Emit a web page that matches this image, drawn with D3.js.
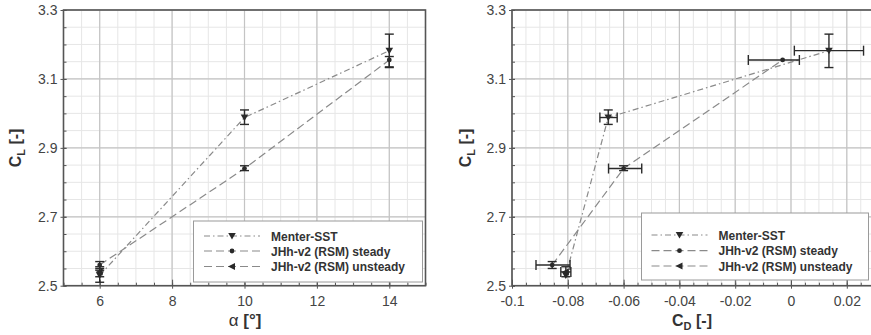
<!DOCTYPE html>
<html>
<head>
<meta charset="utf-8">
<script src="https://cdn.jsdelivr.net/npm/d3@7"></script>
<style>
  body { margin: 0; background: #fff; }
  svg { display: block; font-family: "Liberation Sans", Arial, sans-serif; }
</style>
</head>
<body>
<svg id="chart" width="871" height="335"></svg>
<script>
// angle of attack
const alpha = [6, 10, 14];

// Menter-SST
const menterCL = [2.53, 2.988, 3.182];
const menterCLlo = [2.51, 2.968, 3.133];
const menterCLhi = [2.545, 3.01, 3.23];
const menterCD = [-0.0807, -0.0655, 0.0136];
const menterCDlo = [null, -0.0685, 0.0012];
const menterCDhi = [null, -0.0623, 0.026];

// JHh-v2 (RSM) steady
const steadyCL = [2.56, 2.84, 3.155];
const steadyCLlo = [2.55, 2.834, 3.135];
const steadyCLhi = [2.57, 2.848, 3.165];
const steadyCD = [-0.0856, -0.06, -0.003];
const steadyCDlo = [-0.0914, -0.0654, -0.0153];
const steadyCDhi = [-0.0792, -0.0535, 0.003];

// JHh-v2 (RSM) unsteady (only alpha = 6)
const unsteadyAlpha = [6];
const unsteadyCL = [2.54];
const unsteadyCLlo = [2.526];
const unsteadyCLhi = [2.555];
const unsteadyCD = [-0.0807];
const unsteadyCDlo = [-0.0825];
const unsteadyCDhi = [-0.0789];

const yTicks = [2.5, 2.7, 2.9, 3.1, 3.3];
const alphaTicks = [6, 8, 10, 12, 14];
const cdTicks = [-0.1, -0.08, -0.06, -0.04, -0.02, 0, 0.02];
const legendLabels = ['Menter-SST', 'JHh-v2 (RSM) steady', 'JHh-v2 (RSM) unsteady'];

const lineColor = '#8a8a8a';
const markColor = '#2a2a2a';
const dashDot = '6,3,1.5,3';
const dashed = '8,4';

const svg = d3.select('#chart');

function symbolPath(kind) {
    if (kind === 'down') return 'M-3.8,-3 L3.8,-3 L0,3.6 Z';
    if (kind === 'left') return 'M-4,0 L3,-3.6 L3,3.6 Z';
    return d3.symbol(d3.symbolCircle, 18)();
}

function panel(opts) {
    const x = d3.scaleLinear().domain(opts.xDomain).range(opts.xRange);
    const y = d3.scaleLinear().domain([2.5, 3.3]).range([285.7, 10]);
    const g = svg.append('g');
    const [x0, x1] = opts.xRange;
    const [y1, y0] = y.range();

    // minor grid
    g.append('g').selectAll('line.mx')
        .data(opts.xMinor).join('line')
        .attr('x1', d => x(d)).attr('x2', d => x(d))
        .attr('y1', y0).attr('y2', y1)
        .attr('stroke', '#e6e6e6').attr('stroke-width', 1);
    g.append('g').selectAll('line.my')
        .data(d3.range(2.5, 3.301, 0.05)).join('line')
        .attr('x1', x0).attr('x2', x1)
        .attr('y1', d => y(d)).attr('y2', d => y(d))
        .attr('stroke', '#e6e6e6').attr('stroke-width', 1);
    // major grid
    g.append('g').selectAll('line')
        .data(opts.xTicks).join('line')
        .attr('x1', d => x(d)).attr('x2', d => x(d))
        .attr('y1', y0).attr('y2', y1)
        .attr('stroke', '#c4c4c4').attr('stroke-width', 1.2);
    g.append('g').selectAll('line')
        .data(yTicks).join('line')
        .attr('x1', x0).attr('x2', x1)
        .attr('y1', d => y(d)).attr('y2', d => y(d))
        .attr('stroke', '#c4c4c4').attr('stroke-width', 1.2);

    // axes with ticks
    const xAxis = g.append('g').attr('transform', `translate(0,${y1})`)
        .call(d3.axisBottom(x).tickValues(opts.xTicks).tickSizeInner(-6).tickSizeOuter(0)
            .tickFormat(opts.xFormat).tickPadding(10));
    const xMinorAxis = g.append('g').attr('transform', `translate(0,${y1})`)
        .call(d3.axisBottom(x).tickValues(opts.xMinor).tickSizeInner(-3).tickSizeOuter(0).tickFormat(''));
    const yAxis = g.append('g').attr('transform', `translate(${x0},0)`)
        .call(d3.axisLeft(y).tickValues(yTicks).tickSizeInner(3).tickSizeOuter(0)
            .tickFormat(d3.format('.1f')).tickPadding(3));
    const yMinorAxis = g.append('g').attr('transform', `translate(${x0},0)`)
        .call(d3.axisLeft(y).tickValues(d3.range(2.5, 3.301, 0.05)).tickSizeInner(-3).tickSizeOuter(0).tickFormat(''));
    [xAxis, xMinorAxis, yAxis, yMinorAxis].forEach(a => {
        a.select('.domain').remove();
        a.selectAll('.tick line').attr('stroke', '#555').attr('stroke-width', 1);
        a.selectAll('text').attr('font-size', 14).attr('fill', '#444')
            .attr('font-family', '"Liberation Sans", Arial, sans-serif');
    });
    yAxis.selectAll('.tick line').attr('x1', 3).attr('x2', -3);
    xAxis.selectAll('.tick line').attr('y1', 3).attr('y2', -6);

    // frame
    g.append('rect')
        .attr('x', x0).attr('y', y0)
        .attr('width', x1 - x0).attr('height', y1 - y0)
        .attr('fill', 'none').attr('stroke', '#555').attr('stroke-width', 1.6);

    // series
    opts.series.forEach(s => {
        const pts = s.xs.map((xv, i) => ({
            x: xv, y: s.ys[i],
            xlo: s.xlo ? s.xlo[i] : null, xhi: s.xhi ? s.xhi[i] : null,
            ylo: s.ylo ? s.ylo[i] : null, yhi: s.yhi ? s.yhi[i] : null
        }));
        if (pts.length > 1) {
            g.append('path')
                .attr('d', d3.line().x(d => x(d.x)).y(d => y(d.y))(pts))
                .attr('fill', 'none').attr('stroke', lineColor)
                .attr('stroke-width', 1.2).attr('stroke-dasharray', s.dash);
        }
        const eg = g.append('g').attr('stroke', markColor).attr('stroke-width', 1.4).attr('fill', 'none');
        pts.forEach(p => {
            if (p.ylo != null) {
                eg.append('line').attr('x1', x(p.x)).attr('x2', x(p.x)).attr('y1', y(p.ylo)).attr('y2', y(p.yhi));
                [p.ylo, p.yhi].forEach(v => eg.append('line')
                    .attr('x1', x(p.x) - 4.5).attr('x2', x(p.x) + 4.5).attr('y1', y(v)).attr('y2', y(v)));
            }
            if (p.xlo != null) {
                eg.append('line').attr('x1', x(p.xlo)).attr('x2', x(p.xhi)).attr('y1', y(p.y)).attr('y2', y(p.y));
                [p.xlo, p.xhi].forEach(v => eg.append('line')
                    .attr('x1', x(v)).attr('x2', x(v)).attr('y1', y(p.y) - 5).attr('y2', y(p.y) + 5));
            }
        });
        g.append('g').selectAll('path')
            .data(pts).join('path')
            .attr('d', symbolPath(s.marker))
            .attr('transform', d => `translate(${x(d.x)},${y(d.y)})`)
            .attr('fill', markColor);
    });

    // legend
    const L = opts.legend;
    g.append('rect')
        .attr('x', L.x).attr('y', L.y).attr('width', L.w).attr('height', L.h)
        .attr('fill', '#fff').attr('stroke', '#9a9a9a').attr('stroke-width', 1);
    const styles = [
        { dash: dashDot, marker: 'down' },
        { dash: dashed, marker: 'circle' },
        { dash: dashed, marker: 'left' }
    ];
    legendLabels.forEach((lab, i) => {
        const ly = L.rows[i];
        g.append('line')
            .attr('x1', L.lx).attr('x2', L.lx + 56).attr('y1', ly).attr('y2', ly)
            .attr('stroke', lineColor).attr('stroke-width', 1.2).attr('stroke-dasharray', styles[i].dash);
        g.append('path').attr('d', symbolPath(styles[i].marker))
            .attr('transform', `translate(${L.lx + 28},${ly})`).attr('fill', markColor);
        g.append('text')
            .attr('x', L.lx + 67).attr('y', ly + 4.5)
            .attr('font-size', 12).attr('font-weight', 'bold').attr('fill', '#333')
            .text(lab);
    });

    // y title
    const yt = g.append('text')
        .attr('transform', `translate(${opts.yTitleX},148) rotate(-90)`)
        .attr('text-anchor', 'middle').attr('font-size', 16).attr('font-weight', 'bold').attr('fill', '#333');
    yt.append('tspan').text('C');
    yt.append('tspan').attr('font-size', 11).attr('dy', 4).text('L');
    yt.append('tspan').attr('dy', -4).text(' [-]');

    return g;
}

const fmtCD = d => d === 0 ? '0' : String(+d.toFixed(2)).replace('\u2212', '-');

// left panel: CL vs alpha
const left = panel({
    xDomain: [5, 15], xRange: [63.5, 425.5],
    xTicks: alphaTicks, xMinor: d3.range(5, 15.01, 0.5),
    xFormat: d3.format('d'),
    yTitleX: 21,
    legend: { x: 193.5, y: 221, w: 229, h: 61, lx: 204, rows: [236, 251, 266.5] },
    series: [
        { xs: alpha, ys: menterCL, ylo: menterCLlo, yhi: menterCLhi, dash: dashDot, marker: 'down' },
        { xs: alpha, ys: steadyCL, ylo: steadyCLlo, yhi: steadyCLhi, dash: dashed, marker: 'circle' },
        { xs: unsteadyAlpha, ys: unsteadyCL, ylo: unsteadyCLlo, yhi: unsteadyCLhi, dash: dashed, marker: 'left' }
    ]
});
const at = left.append('text')
    .attr('x', 245).attr('y', 326).attr('text-anchor', 'middle')
    .attr('font-size', 17).attr('fill', '#333');
at.append('tspan').text('\u03b1 ');
at.append('tspan').attr('font-weight', 'bold').text('[\u00b0]');

// right panel: CL vs CD
const right = panel({
    xDomain: [-0.1, 0.03], xRange: [512, 874.7],
    xTicks: cdTicks, xMinor: d3.range(-0.1, 0.0301, 0.005),
    xFormat: fmtCD,
    yTitleX: 471,
    legend: { x: 641.5, y: 213, w: 227, h: 67, lx: 651.5, rows: [235, 250.7, 266] },
    series: [
        { xs: menterCD, ys: menterCL, xlo: menterCDlo, xhi: menterCDhi, ylo: [null, menterCLlo[1], menterCLlo[2]], yhi: [null, menterCLhi[1], menterCLhi[2]], dash: dashDot, marker: 'down' },
        { xs: steadyCD, ys: steadyCL, xlo: steadyCDlo, xhi: steadyCDhi, ylo: [steadyCLlo[0], steadyCLlo[1], null], yhi: [steadyCLhi[0], steadyCLhi[1], null], dash: dashed, marker: 'circle' },
        { xs: unsteadyCD, ys: unsteadyCL, xlo: unsteadyCDlo, xhi: unsteadyCDhi, ylo: unsteadyCLlo, yhi: unsteadyCLhi, dash: dashed, marker: 'left' }
    ]
});
const ct = right.append('text')
    .attr('x', 692).attr('y', 326).attr('text-anchor', 'middle')
    .attr('font-size', 16).attr('font-weight', 'bold').attr('fill', '#333');
ct.append('tspan').text('C');
ct.append('tspan').attr('font-size', 11).attr('dy', 4).text('D');
ct.append('tspan').attr('dy', -4).text(' [-]');
</script>
</body>
</html>
